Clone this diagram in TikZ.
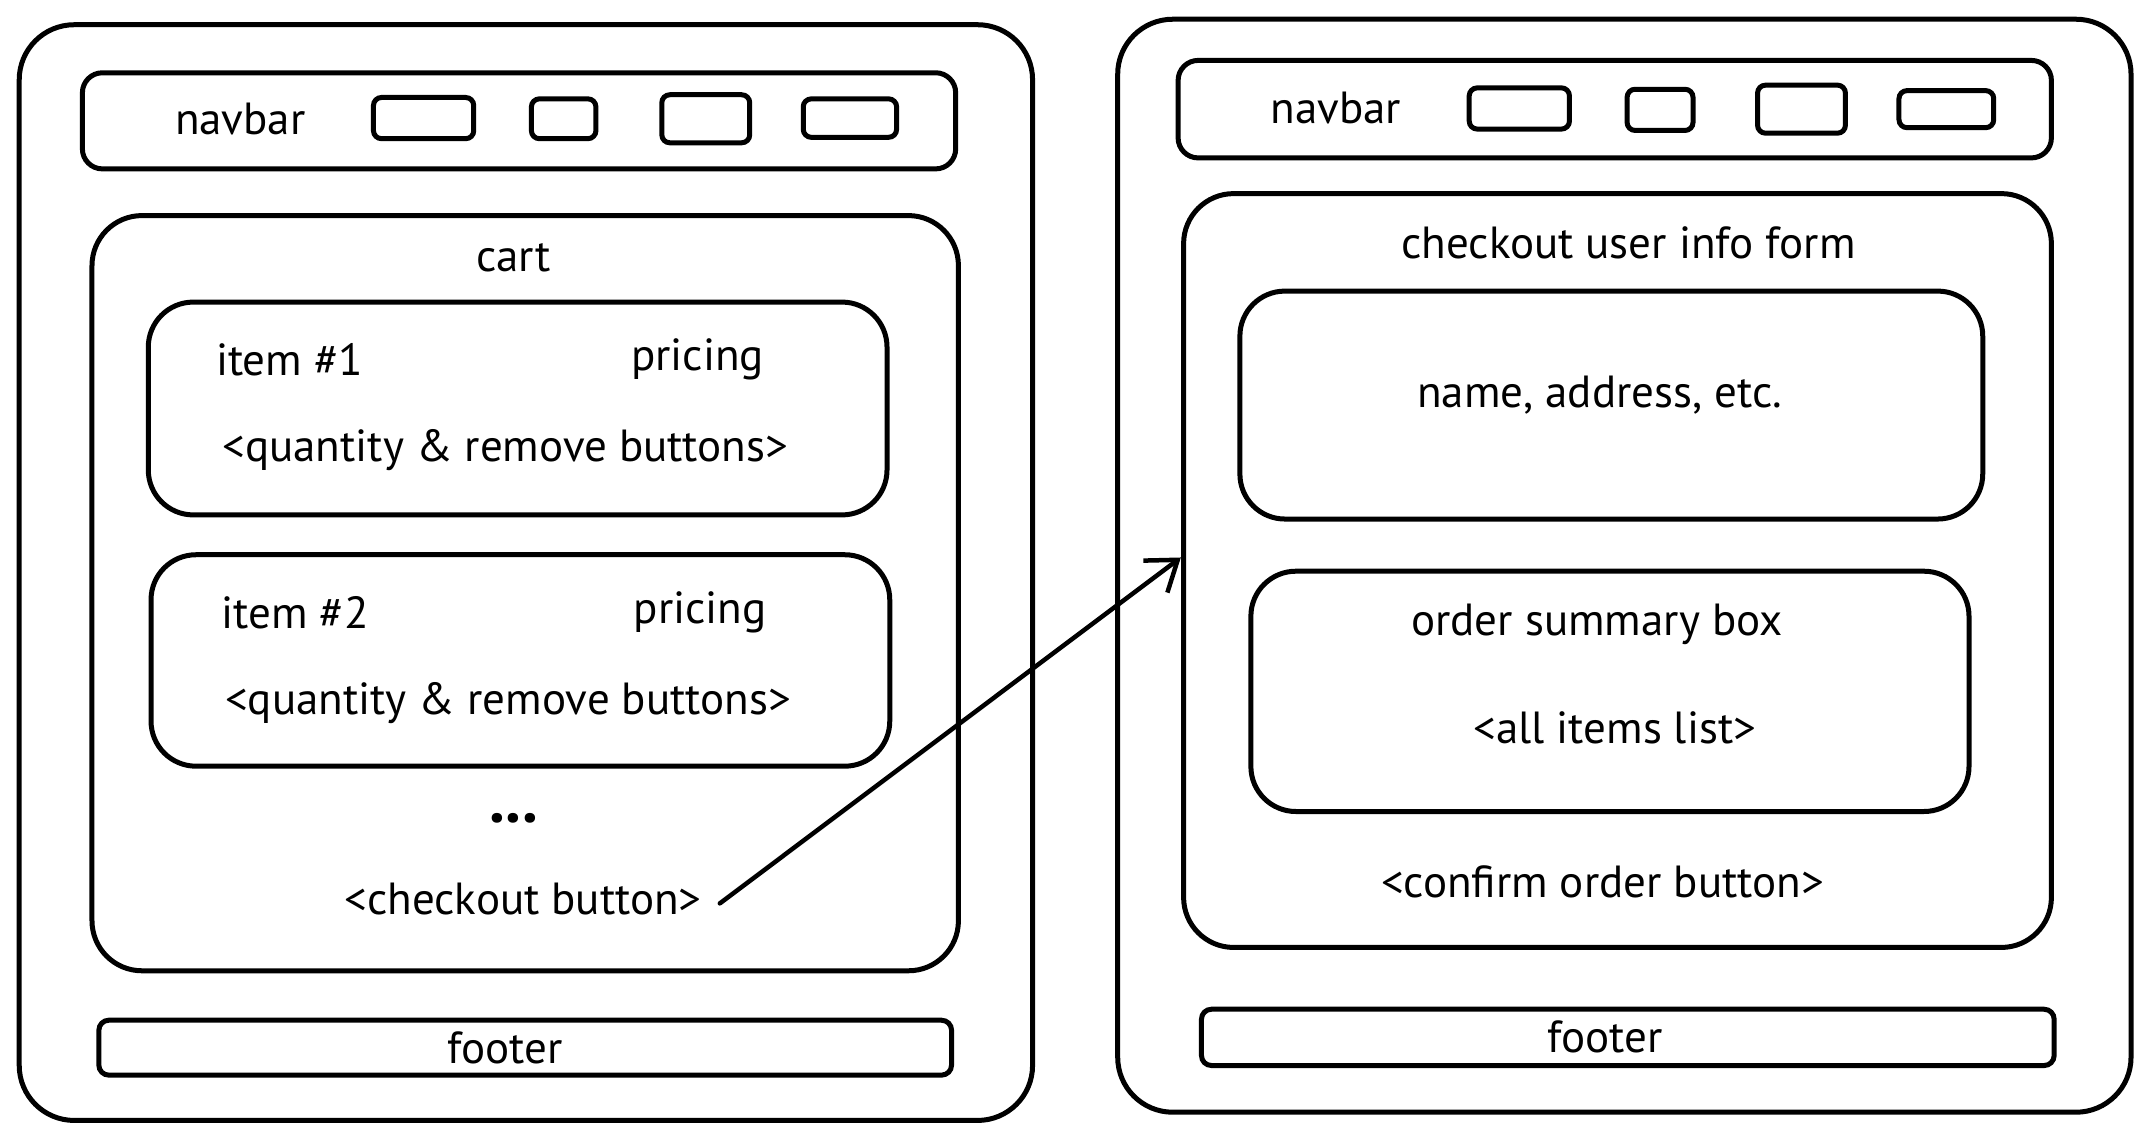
\documentclass[tikz,border=0pt]{standalone}
\usepackage{fontspec}
\setmainfont{PT Sans}
\usetikzlibrary{fit,arrows.meta}
\begin{document}
\begin{tikzpicture}[x=1.3731pt,y=-1.3731pt,
  box/.style={draw, line width=5pt, rounded corners=#1, inner sep=0pt},
  box/.default=20pt,
  lbl/.style={font=\fontsize{45}{50}\selectfont, inner sep=2pt},
  link/.style={draw, line width=4.5pt, line cap=round, -{Straight Barb[length=28pt,width=40pt,line width=4.5pt]}},
]
\useasboundingbox (0,0) rectangle (1568,831);

% ---------- left page ----------
\node[box=55pt, fit={(14,18)(752,816)}] (lout) {};
\node[box=20pt, fit={(60,53)(696,123)}] (lnavbox) {};
\node[lbl] (lnav) at (175,87) {navbar};
\node[box=8pt, fit={(272,71)(345,101)}] (lb1) {};
\node[box=8pt, fit={(387,72)(434,101)}] (lb2) {};
\node[box=8pt, fit={(482,69)(546,104)}] (lb3) {};
\node[box=8pt, fit={(585,72)(653,100)}] (lb4) {};

\node[box=50pt, fit={(67,157)(698,707)}] (cart) {};
\node[lbl] (cartlbl) at (374,188) {cart};

\node[box=45pt, fit={(108,220)(646,375)}] (item1) {};
\node[lbl] (i1name) at (211,262) {item \#1};
\node[lbl] (i1price) at (508,262) {pricing};
\node[lbl] (i1btn) at (368,328) {<quantity \& remove buttons>};

\node[box=45pt, fit={(110,404)(648,558)}] (item2) {};
\node[lbl] (i2name) at (215,446) {item \#2};
\node[lbl] (i2price) at (510,446) {pricing};
\node[lbl] (i2btn) at (370,512) {<quantity \& remove buttons>};

\node[lbl, font=\fontsize{64}{64}\selectfont\bfseries] (dots) at (374,596) {...};
\node[lbl] (chk) at (381,655) {<checkout button>};

\node[box=10pt, fit={(72,743)(693,783)}] (lfootbox) {};
\node[lbl] (lfoot) at (368,763) {footer};

% ---------- right page ----------
\node[box=55pt, fit={(814,14)(1552,810)}] (rout) {};
\node[box=20pt, fit={(858,44)(1494,115)}] (rnavbox) {};
\node[lbl] (rnav) at (973,79) {navbar};
\node[box=8pt, fit={(1070,64)(1143,94)}] (rb1) {};
\node[box=8pt, fit={(1185,65)(1233,95)}] (rb2) {};
\node[box=8pt, fit={(1280,62)(1344,97)}] (rb3) {};
\node[box=8pt, fit={(1383,66)(1452,93)}] (rb4) {};

\node[box=50pt, fit={(862,141)(1494,690)}] (form) {};
\node[lbl] (formlbl) at (1186,177) {checkout user info form};

\node[box=45pt, fit={(903,212)(1444,378)}] (namebox) {};
\node[lbl] (namelbl) at (1165,288) {name, address, etc.};

\node[box=45pt, fit={(911,416)(1434,591)}] (summary) {};
\node[lbl] (sumlbl) at (1163,455) {order summary box};
\node[lbl] (listlbl) at (1176,530) {<all items list>};

\node[lbl] (confirm) at (1167,642) {<confirm order button>};

\node[box=10pt, fit={(875,735)(1496,776)}] (rfootbox) {};
\node[lbl] (rfoot) at (1169,755) {footer};

% ---------- connector ----------
\coordinate (arrowend) at (860,406);
\draw[link] ([xshift=16pt,yshift=-4pt]chk.east) -- (arrowend);
\end{tikzpicture}
\end{document}
